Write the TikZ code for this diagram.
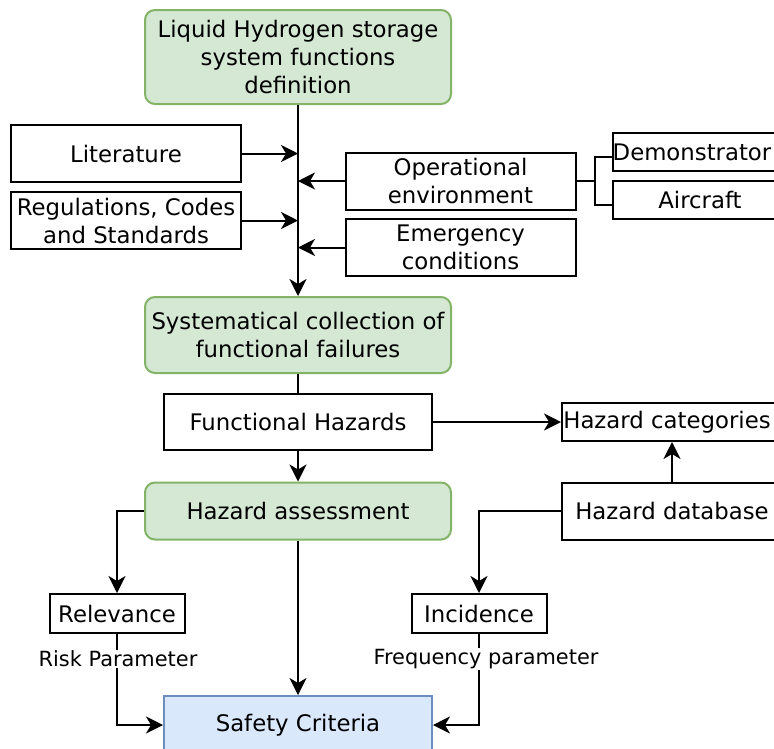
\documentclass[tikz,border=0pt]{standalone}
\usepackage{fontspec}
\setmainfont{DejaVu Sans}
\usetikzlibrary{arrows.meta}
\definecolor{gfill}{HTML}{D5E8D4}
\definecolor{gline}{HTML}{82B366}
\definecolor{bfill}{HTML}{DAE8FC}
\definecolor{bline}{HTML}{6C8EBF}
\tikzset{
  base/.style={inner sep=0pt, align=center, font=\fontsize{22.8}{28}\selectfont, line width=2pt},
  plain/.style={base, draw=black, fill=white},
  green/.style={base, draw=gline, fill=gfill, rounded corners=10pt},
  blue/.style={base, draw=bline, fill=bfill},
  txt/.style={inner sep=0pt, font=\fontsize{22.8}{28}\selectfont},
  lbl/.style={inner sep=1pt, fill=white, font=\fontsize{20.9}{25}\selectfont},
  conn/.style={line width=2pt},
  arr/.style={line width=2pt, -{Stealth[length=17pt,width=17pt,inset=5pt]}},
}
\begin{document}
\begin{tikzpicture}[x=1pt,y=-1pt]
\useasboundingbox (0,0) rectangle (774,748);
\clip (0,0) rectangle (774,748);
% nodes
\node[green, minimum width=306, minimum height=94] (top) at (298,57) {Liquid Hydrogen storage\\system functions\\definition};
\node[plain, minimum width=230, minimum height=57] (lit) at (126,153.5) {Literature};
\node[plain, minimum width=230, minimum height=57] (reg) at (126,220.5) {Regulations, Codes\\and Standards};
\node[plain, minimum width=230, minimum height=57] (op) at (460.5,181) {Operational\\environment};
\node[plain, minimum width=230, minimum height=57] (em) at (460.5,247.5) {Emergency\\conditions};
\node[plain, minimum width=174, minimum height=38] (demo) at (700,152) {};
\node[txt] (demot) at (692,152) {Demonstrator};
\node[plain, minimum width=174, minimum height=38] (air) at (700,200) {Aircraft};
\node[green, minimum width=306, minimum height=76] (sys) at (298,335) {Systematical collection of\\functional failures};
\node[plain, minimum width=268, minimum height=56] (fh) at (298,422) {Functional Hazards};
\node[plain, minimum width=220, minimum height=38] (hc) at (672,422) {};
\node[txt] (hct) at (667,422) {Hazard categories};
\node[green, minimum width=306, minimum height=57] (ha) at (298,511) {Hazard assessment};
\node[plain, minimum width=220, minimum height=57] (hd) at (672,511) {Hazard database};
\node[plain, minimum width=135, minimum height=39] (rel) at (117,613.5) {Relevance};
\node[plain, minimum width=135, minimum height=39] (inc) at (479,613.5) {Incidence};
\node[blue, minimum width=268, minimum height=58] (safe) at (298,725) {Safety Criteria};
% connectors
\draw[arr] (top.south) -- (sys.north);
\draw[arr] (lit.east) -- (lit.east -| top.south);
\draw[arr] (reg.east) -- (reg.east -| top.south);
\draw[arr] (op.west) -- (op.west -| top.south);
\draw[arr] (em.west) -- (em.west -| top.south);
\coordinate (br) at ([xshift=18.5pt]op.east);
\draw[conn] (op.east) -- (br) |- ([yshift=-5pt]demo.west);
\draw[conn] (br) |- ([yshift=-5pt]air.west);
\draw[conn] (sys.south) -- (fh.north);
\draw[arr] (fh.south) -- (ha.north);
\draw[arr] (fh.east) -- (hc.west);
\draw[arr] (hd.north) -- (hc.south);
\draw[arr] (ha.west) -| (rel.north);
\draw[arr] (hd.west) -| (inc.north);
\draw[arr] (ha.south) -- (safe.north);
\draw[arr] (rel.south) |- (safe.west);
\draw[arr] (inc.south) |- (safe.east);
\node[lbl] (rp) at (118,659) {Risk Parameter};
\node[lbl] (fp) at (486,659) {Frequency parameter};
\end{tikzpicture}
\end{document}
